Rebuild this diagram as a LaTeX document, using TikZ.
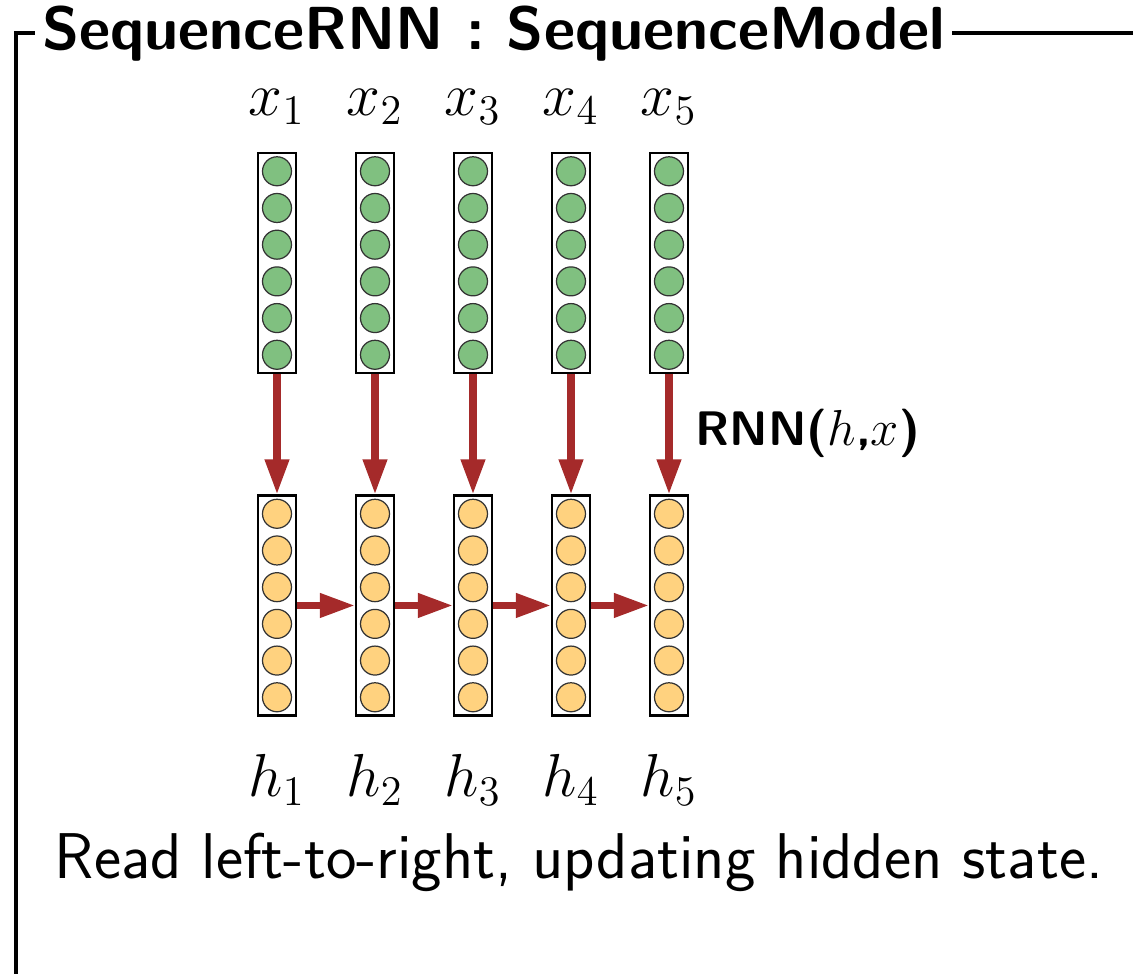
\documentclass[tikz,border=0pt]{standalone}
\usetikzlibrary{arrows.meta,positioning}
\definecolor{ingreen}{RGB}{128,192,128}
\definecolor{hidorange}{RGB}{255,210,127}
\definecolor{rnnred}{RGB}{165,42,42}
\tikzset{
    vecbox/.style={draw=black, line width=0.6pt, fill=white, minimum width=0.38cm, minimum height=2.2cm, inner sep=0pt},
    unit/.style={circle, draw=black!80, line width=0.35pt, minimum size=0.29cm, inner sep=0pt},
    rnnarrow/.style={draw=rnnred, line width=2pt, -{Triangle[length=0.35cm, width=0.23cm]}},
    frameline/.style={line width=1.4pt},
    veclabel/.style={font=\fontsize{18.5}{22}\selectfont},
}
\begin{document}
\begin{tikzpicture}
            \useasboundingbox (0,0) rectangle (11.33,9.74);
            % frame with title
            \coordinate (fbot) at (0.16,-0.1);
            \coordinate (fright) at (11.43,9.41);
            \draw[frameline] (fbot) |- (fright);
            \node[fill=white, inner xsep=2pt, inner ysep=1pt, anchor=base, font=\fontsize{17.3}{20}\selectfont\sffamily\bfseries] (title) at (4.935,9.24) {SequenceRNN : SequenceModel};
            % input and hidden vectors
            \foreach \i in {1,...,5}
            {
                \pgfmathsetmacro{\cx}{2.77+0.98*(\i-1)}
                \node[vecbox] (xb\i) at (\cx,7.11) {};
                \node[vecbox] (hb\i) at (\cx,3.685) {};
                \foreach \j in {1,...,6} {
                    \node[unit, fill=ingreen] (xu\i\j) at (\cx,{7.11+1.284-0.367*\j}) {};
                    \node[unit, fill=hidorange] (hu\i\j) at (\cx,{3.685+1.284-0.367*\j}) {};
                }
                \node[veclabel] (xl\i) at (\cx,8.67) {$x_\i$};
                \node[veclabel] (hl\i) at (\cx,1.94) {$h_\i$};
                \draw[rnnarrow] (xb\i) -- (hb\i);
            };
            % hidden state passed along
            \foreach \i [evaluate=\i as \j using int(\i+1)] in {1,...,4} {
                \draw[rnnarrow] (hb\i) -- (hb\j);
            }
            \node[anchor=west, inner sep=0pt, font=\fontsize{13.8}{16}\selectfont\sffamily\bfseries] (rnn) at (6.95,5.41) {RNN($h$,$x$)};
            \node[anchor=base, font=\fontsize{18.4}{22}\selectfont\sffamily] (caption) at (5.79,0.95) {Read left-to-right, updating hidden state.};
        \end{tikzpicture}
\end{document}
